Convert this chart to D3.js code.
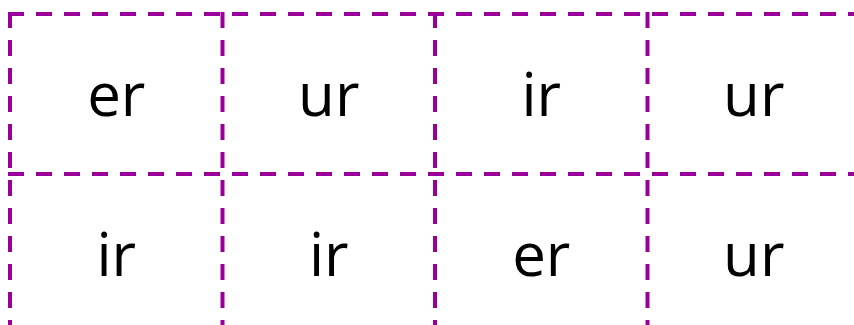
<!DOCTYPE html>
<html><head><meta charset="utf-8">
<script src="https://cdn.jsdelivr.net/npm/d3@7"></script>
<style>html,body{margin:0;padding:0;background:#fff;overflow:hidden}</style>
</head><body>
<svg id="c" width="854" height="325"></svg>
<script>
const columns = [0, 1, 2, 3];
const rows = [0, 1];
const row0 = ["er", "ur", "ir", "ur"];
const row1 = ["ir", "ir", "er", "ur"];
const cells = [row0, row1];

const svg = d3.select("#c");
const x = d3.scaleBand().domain(columns).range([10, 860]);
const y = d3.scaleBand().domain(rows).range([14, 334]);
const color = "#990099";

const g = svg.append("g");
const hLines = [...rows.map(r => y(r)), y.range()[1]];
const vLines = [...columns.map(c => x(c)), x.range()[1]];

g.selectAll("line.h").data(hLines).join("line")
  .attr("x1", 8).attr("x2", 870).attr("y1", d => d).attr("y2", d => d)
  .attr("stroke", color).attr("stroke-width", 4).attr("stroke-dasharray", "16,12");
g.selectAll("line.v").data(vLines).join("line")
  .attr("y1", 12).attr("y2", 340).attr("x1", d => d).attr("x2", d => d)
  .attr("stroke", color).attr("stroke-width", 4).attr("stroke-dasharray", "16,12");

const textData = [];
rows.forEach(r => columns.forEach(c => textData.push({r, c, t: cells[r][c]})));
svg.selectAll("text").data(textData).join("text")
  .attr("x", d => x(d.c) + x.bandwidth() / 2)
  .attr("y", d => y(d.r) + 102)
  .attr("text-anchor", "middle")
  .attr("font-family", "Open Sans")
  .attr("font-size", 60)
  .attr("fill", "#000")
  .text(d => d.t);
</script>
</body></html>
